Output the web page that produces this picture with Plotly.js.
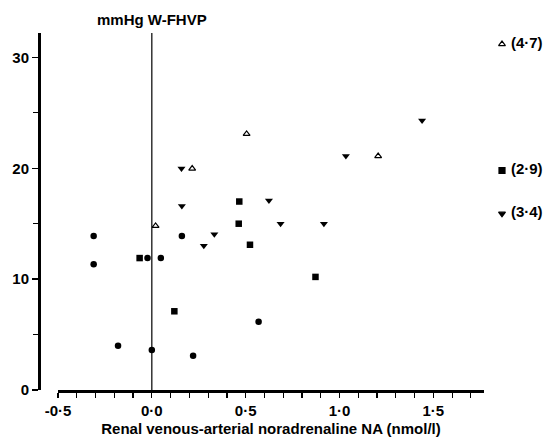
<!DOCTYPE html>
<html>
<head>
<meta charset="utf-8">
<script src="https://cdn.plot.ly/plotly-3.0.1.min.js"></script>
<style>html,body{margin:0;padding:0;background:#fff;}#chart{width:548px;height:437px;}</style>
</head>
<body>
<div id="chart"></div>
<script>
// Circles
const circleX = [-0.31, -0.31, -0.18, 0.0, -0.023, 0.048, 0.16, 0.22, 0.569];
const circleY = [13.9, 11.35, 4.0, 3.6, 11.9, 11.9, 13.9, 3.1, 6.15];
// Filled squares
const squareX = [-0.065, 0.12, 0.466, 0.463, 0.523, 0.872];
const squareY = [11.9, 7.1, 17.0, 15.0, 13.1, 10.2];
// Filled down triangles
const downX = [0.158, 0.16, 0.277, 0.333, 0.624, 0.686, 0.917, 1.034, 1.44];
const downY = [19.97, 16.6, 13.0, 14.05, 17.1, 15.0, 15.0, 21.1, 24.3];
// Open up triangles
const openX = [0.02, 0.215, 0.505, 1.206];
const openY = [14.8, 19.97, 23.1, 21.1];
// Off-scale points (their x value is given in brackets)
const offCategory = ["off-scale", "off-scale", "off-scale"];
const offLabels = ["(4·7)", "(2·9)", "(3·4)"];
const offY = [31.2, 19.8, 15.9];
const offSymbols = ["triangle-up-open", "square", "triangle-down"];

const xTickVals = [-0.5, 0, 0.5, 1.0, 1.5];
const xTickText = ["-0·5", "0·0", "0·5", "1·0", "1·5"];
const yTickVals = [0, 10, 20, 30];
const yTickText = ["0", "10", "20", "30"];

const FONT = "Liberation Sans, Arial, sans-serif";
const traces = [
  {x: circleX, y: circleY, type: 'scatter', mode: 'markers', cliponaxis: false,
   marker: {symbol: 'circle', size: 6.5, color: '#000'}},
  {x: squareX, y: squareY, type: 'scatter', mode: 'markers', cliponaxis: false,
   marker: {symbol: 'square', size: 6.5, color: '#000'}},
  {x: downX, y: downY, type: 'scatter', mode: 'markers', cliponaxis: false,
   marker: {symbol: 'triangle-down', size: 7, color: '#000'}},
  {x: openX, y: openY, type: 'scatter', mode: 'markers', cliponaxis: false,
   marker: {symbol: 'triangle-up-open', size: 6, color: '#000', line: {width: 1.2, color: '#000'}}},
  {x: offCategory, y: offY, xaxis: 'x2', yaxis: 'y', type: 'scatter', mode: 'markers+text', cliponaxis: false,
   text: offLabels, texttemplate: ' %{text}', textposition: 'middle right',
   textfont: {family: FONT, size: 15, color: '#000', weight: 'bold'},
   marker: {symbol: offSymbols, size: 6, color: '#000', line: {width: 1.2, color: '#000'}}}
];

const plotL = 39, plotR = 548, axisStart = 58, axisEnd = 484, offPos = 502;
const W = plotR - plotL;
const layout = {
  width: 548, height: 437,
  margin: {l: plotL, r: 548 - plotR, t: 33, b: 47, pad: 0},
  paper_bgcolor: '#fff', plot_bgcolor: '#fff',
  showlegend: false,
  font: {family: FONT, size: 15, color: '#000'},
  xaxis: {
    domain: [(axisStart - plotL) / W, (axisEnd - plotL) / W],
    range: [-0.5, 1.77], anchor: 'y',
    showgrid: false, zeroline: false,
    showline: true, linewidth: 2.5, linecolor: '#000',
    tickmode: 'array', tickvals: xTickVals, ticktext: xTickText,
    ticks: 'outside', ticklen: 5, tickwidth: 1.2, tickcolor: '#000',
    tickfont: {family: FONT, size: 15, weight: 'bold'},
    minor: {tickmode: 'linear', tick0: 0, dtick: 0.1, ticks: 'outside', ticklen: 5, tickwidth: 1.2, tickcolor: '#000'},
    title: {text: 'Renal venous-arterial noradrenaline NA (nmol/l)', standoff: 7,
            font: {family: FONT, size: 15, weight: 'bold'}}
  },
  xaxis2: {
    domain: [(offPos - 5 - plotL) / W, (offPos + 5 - plotL) / W],
    type: 'category', anchor: 'y', visible: false, showgrid: false, zeroline: false
  },
  yaxis: {
    domain: [0, 1], range: [0, 32.2], anchor: 'free', position: 0,
    showgrid: false, zeroline: false,
    showline: true, linewidth: 2.5, linecolor: '#000',
    tickmode: 'array', tickvals: yTickVals, ticktext: yTickText,
    ticks: 'outside', ticklen: 6, tickwidth: 1.5, tickcolor: '#000',
    tickfont: {family: FONT, size: 15, weight: 'bold'},
    minor: {tickmode: 'linear', tick0: 0, dtick: 5, ticks: 'outside', ticklen: 5, tickwidth: 1.2, tickcolor: '#000'}
  },
  shapes: [
    {type: 'line', xref: 'x', yref: 'paper', x0: 0, x1: 0, y0: 0, y1: 1,
     line: {color: '#000', width: 1.2}}
  ],
  annotations: [
    {text: 'mmHg W-FHVP', xref: 'x', yref: 'paper', x: 0, y: 1, yshift: 3,
     xanchor: 'center', yanchor: 'bottom', showarrow: false,
     font: {family: FONT, size: 15, weight: 'bold'}}
  ]
};

Plotly.newPlot('chart', traces, layout, {staticPlot: true, displayModeBar: false});
</script>
</body>
</html>
